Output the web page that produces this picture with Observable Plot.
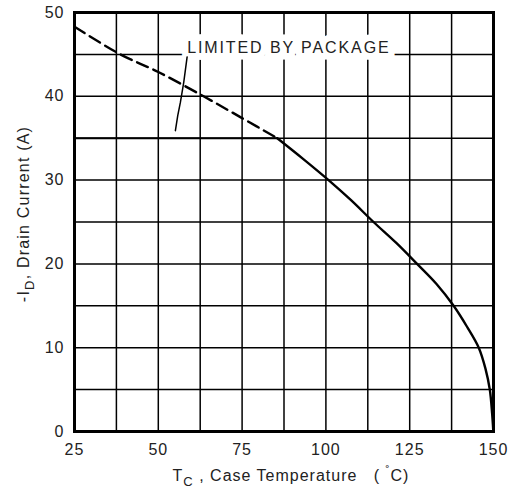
<!DOCTYPE html>
<html>
<head>
<meta charset="utf-8">
<script src="https://cdn.jsdelivr.net/npm/d3@7"></script>
<script src="https://cdn.jsdelivr.net/npm/@observablehq/plot@0.6"></script>
<style>
  html, body { margin: 0; padding: 0; background: white; }
  svg text { font-family: "Liberation Sans", Arial, sans-serif; }
</style>
</head>
<body>
<div id="chart"></div>
<script>
// Axis ticks and grid
const xTicks = [25, 50, 75, 100, 125, 150];
const xGrid = [25, 37.5, 50, 62.5, 75, 87.5, 100, 112.5, 125, 137.5, 150];
const yTicks = [0, 10, 20, 30, 40, 50];
const yGrid = [0, 5, 10, 15, 20, 25, 30, 35, 40, 45, 50];

// Derating curve (solid part)
const solidT = [85.5, 93, 100.8, 107.5, 114.2, 121, 127.2, 133, 138.1, 142.1, 145.6, 147.6, 148.9, 149.6, 149.9];
const solidI = [35, 32.6, 30, 27.6, 25, 22.5, 20, 17.6, 15, 12.5, 10, 7.5, 5, 2.1, 0.3];

// Dashed extension (silicon limit above package limit)
const dashT = [25, 38.7, 50, 63.5, 75, 85.5];
const dashI = [48.3, 45, 42.9, 40, 37.4, 35];

// Package limit line
const limitT = [25, 85.5];
const limitI = [35, 35];

// Leader line from label
const leaderT = [58.6, 57.6, 56.6, 55.8, 55.1];
const leaderI = [44.7, 41.7, 39.3, 37.7, 35.9];

// Label
const labelText = ["LIMITED BY PACKAGE"];
const labelT = [58.6];
const labelI = [45.8];

const solid = solidT.map((t, i) => ({t, i: solidI[i]}));
const dashed = dashT.map((t, i) => ({t, i: dashI[i]}));
const limit = limitT.map((t, i) => ({t, i: limitI[i]}));
const leader = leaderT.map((t, i) => ({t, i: leaderI[i]}));
const labels = labelText.map((s, k) => ({s, t: labelT[k], i: labelI[k]}));

const chart = Plot.plot({
  width: 511,
  height: 497,
  marginLeft: 74,
  marginRight: 18,
  marginTop: 12,
  marginBottom: 66,
  style: {background: "white", fontFamily: "Liberation Sans, Arial, sans-serif"},
  x: {domain: [25, 150]},
  y: {domain: [0, 50]},
  marks: [
    Plot.gridX(xGrid, {stroke: "black", strokeOpacity: 1, strokeWidth: 1.5}),
    Plot.gridY(yGrid, {stroke: "black", strokeOpacity: 1, strokeWidth: 1.5}),
    Plot.text(labels, {x: "t", y: "i", text: "s", textAnchor: "start", fontSize: 16,
      fill: "#222", stroke: "white", strokeWidth: 13, strokeLinejoin: "miter", className: "pkg-label"}),
    Plot.line(limit, {x: "t", y: "i", stroke: "black", strokeWidth: 2}),
    Plot.line(dashed, {x: "t", y: "i", stroke: "black", strokeWidth: 2.4, strokeDasharray: "12,6", curve: "catmull-rom"}),
    Plot.line(solid, {x: "t", y: "i", stroke: "black", strokeWidth: 2.4, curve: "catmull-rom"}),
    Plot.line(leader, {x: "t", y: "i", stroke: "black", strokeWidth: 1.5}),
    Plot.frame({stroke: "black", strokeWidth: 3}),
    Plot.axisX(xTicks, {tickSize: 0, tickPadding: 12, fontSize: 16, fill: "#222", label: null}),
    Plot.axisY(yTicks, {tickSize: 0, tickPadding: 10, fontSize: 16, fill: "#222", label: null})
  ]
});

document.getElementById("chart").appendChild(chart);
const svg = d3.select(chart);
svg.selectAll("text").style("letter-spacing", "1px");
svg.selectAll(".pkg-label text").style("letter-spacing", "1.9px");

// X axis title
const xt = svg.append("text")
  .attr("x", 291).attr("y", 481)
  .attr("text-anchor", "middle")
  .attr("fill", "#222")
  .style("font-size", "16px")
  .style("letter-spacing", "1px");
xt.append("tspan").text("T");
xt.append("tspan").attr("dy", 5).style("font-size", "13px").text("C");
xt.append("tspan").attr("dy", -5).text(" , Case Temperature   ( ");
xt.append("tspan").attr("dy", -6).style("font-size", "12px").text("˚");
xt.append("tspan").attr("dy", 6).text("C)");

// Y axis title
const yt = svg.append("text")
  .attr("transform", "translate(29,214) rotate(-90)")
  .attr("text-anchor", "middle")
  .attr("fill", "#222")
  .style("font-size", "16px")
  .style("letter-spacing", "1.2px");
yt.append("tspan").text("-I");
yt.append("tspan").attr("dy", 5).style("font-size", "13px").text("D");
yt.append("tspan").attr("dy", -5).text(", Drain Current (A)");
</script>
</body>
</html>
